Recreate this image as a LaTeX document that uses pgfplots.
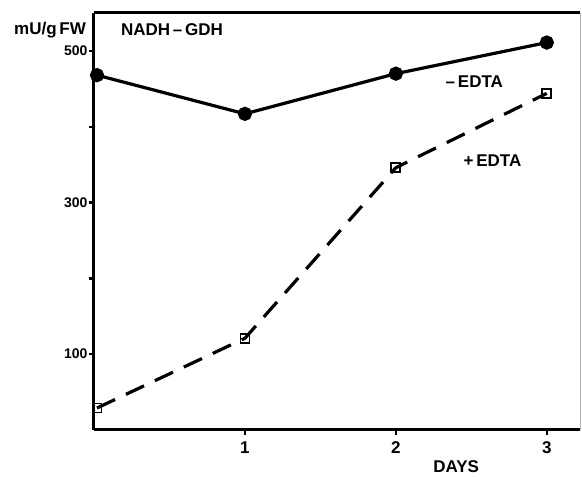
\documentclass[border=0pt]{standalone}
\usepackage{fontspec}
\setmainfont{Liberation Sans}
\usepackage{pgfplots}
\pgfplotsset{compat=1.18}
\usetikzlibrary{calc}
\begin{document}
\begin{tikzpicture}
\begin{axis}[
  name=ax,
  scale only axis,
  width=486pt, height=417pt,
  xmin=0, xmax=3.22, ymin=0, ymax=550,
  axis lines*=left,
  axis line style={line width=3pt,-},
  clip=false,
  xtick={1,2,3},
  ytick={100,200,300,400,500},
  yticklabels={100,,300,,500},
  tick align=outside,
  major tick length=5pt,
  tick style={line width=2.4pt,black},
  /pgf/number format/assume math mode=true,
  xticklabel style={font=\fontsize{17}{18}\selectfont\bfseries, yshift=-3pt},
  yticklabel style={font=\fontsize{14}{15}\selectfont\bfseries, xshift=2pt},
]
\draw[line width=3pt] (rel axis cs:0,1) -- (rel axis cs:1,1);
\draw[line width=0.8pt, gray!60] (rel axis cs:1,1) -- (rel axis cs:1,0);
\addplot[black, line width=3.2pt, mark=*, mark size=5.5pt] coordinates {
  (0.02,468) (1,417) (2,470) (3,511)
};
\addplot[black, line width=3.2pt, dash pattern=on 20pt off 12pt,
  mark=square, mark size=4.5pt, mark options={solid, line width=1.8pt, fill=white}] coordinates {
  (0.02,29) (1,121) (2,346) (3,444)
};
\node[anchor=east, font=\fontsize{17}{18}\selectfont\bfseries] at (axis cs:-0.03,528) {mU/g\,FW};
\node[font=\fontsize{17}{18}\selectfont\bfseries] at (axis cs:0.517,528) {NADH\,--\,GDH};
\node[font=\fontsize{17}{18}\selectfont\bfseries] at (axis cs:2.52,459) {--\,EDTA};
\node[font=\fontsize{17}{18}\selectfont\bfseries] at (axis cs:2.64,355) {+\,EDTA};
\node[font=\fontsize{17}{18}\selectfont\bfseries] at (axis cs:2.40,-49) {DAYS};
\end{axis}
\path[use as bounding box] ($(ax.south west)+(-94pt,-45pt)$) rectangle ($(ax.north east)+(2pt,13pt)$);
\end{tikzpicture}
\end{document}
